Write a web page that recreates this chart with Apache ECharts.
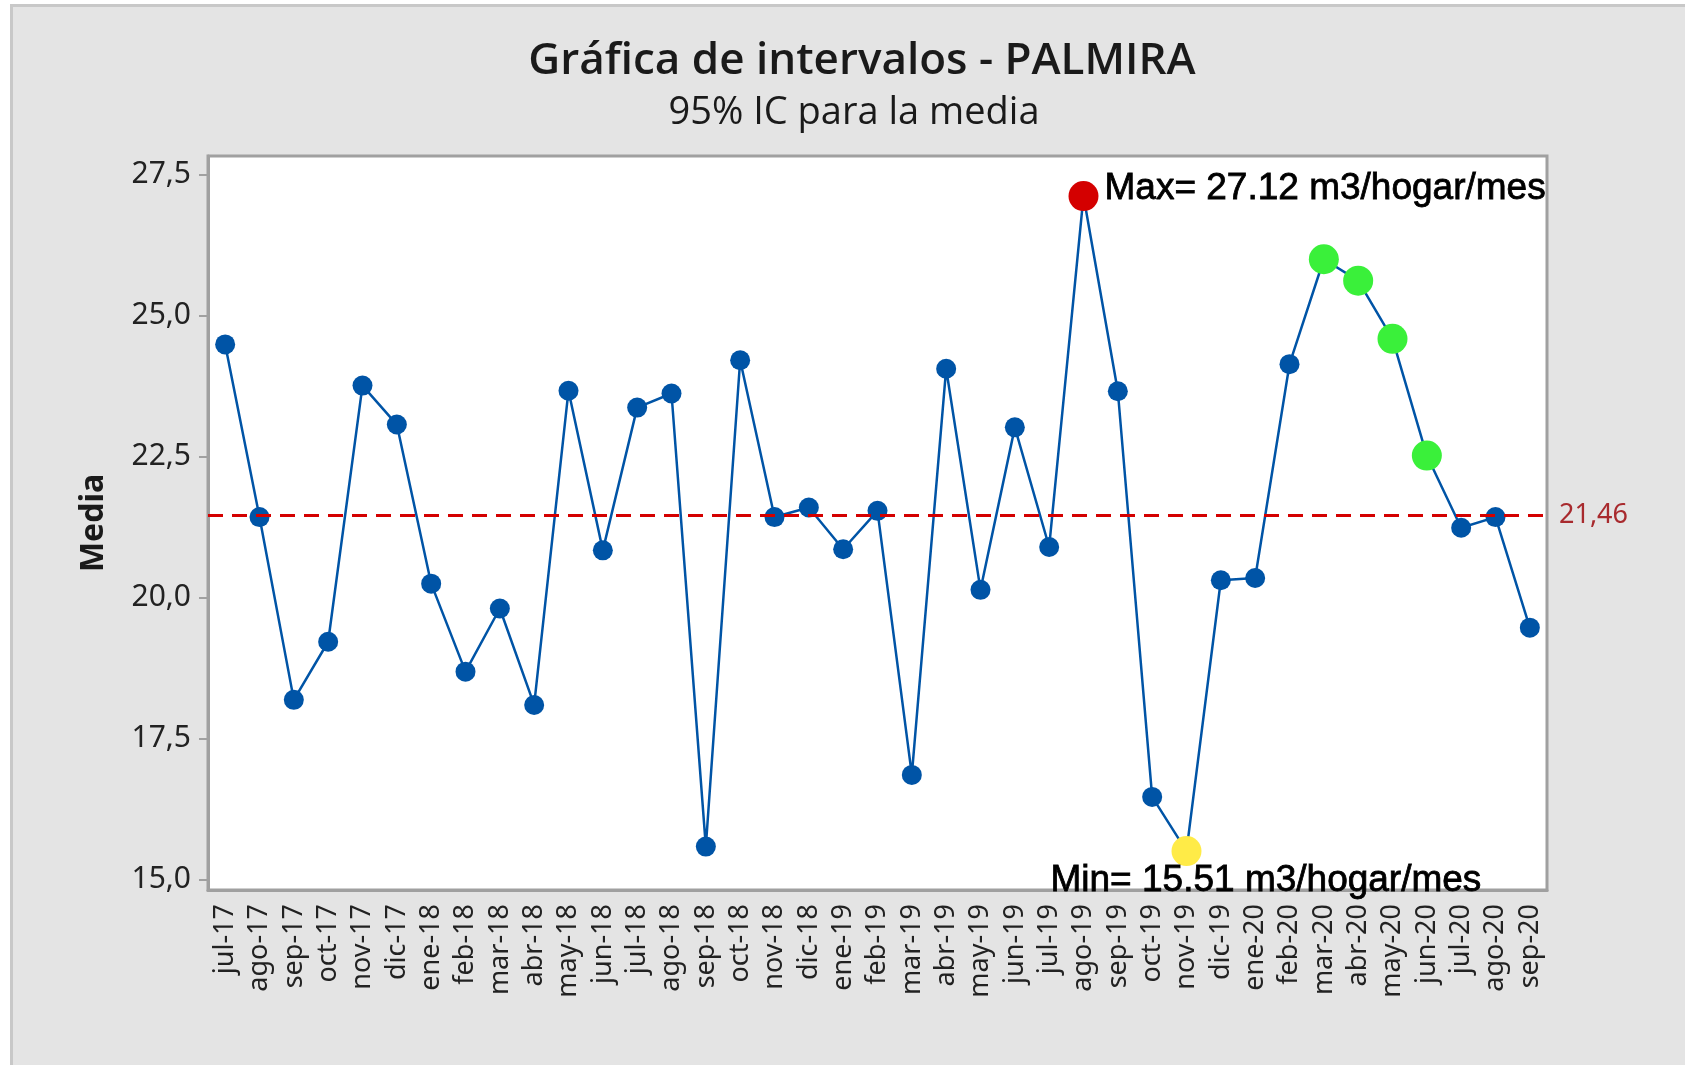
<html lang="es">
<head>
  <meta charset="UTF-8">
  <title>Gráfica de intervalos - PALMIRA</title>
  <style>
    html, body { margin: 0; padding: 0; background: #fff; }
    #chart { width: 1685px; height: 1065px; }
  </style>
</head>
<body>
  <div id="chart"></div>
  <script src="https://cdn.jsdelivr.net/npm/echarts@6/dist/echarts.min.js"></script>
  <script>
    // meses (jul-17 .. sep-20)
    const months = [
      'jul-17', 'ago-17', 'sep-17', 'oct-17', 'nov-17', 'dic-17',
      'ene-18', 'feb-18', 'mar-18', 'abr-18', 'may-18', 'jun-18',
      'jul-18', 'ago-18', 'sep-18', 'oct-18', 'nov-18', 'dic-18',
      'ene-19', 'feb-19', 'mar-19', 'abr-19', 'may-19', 'jun-19',
      'jul-19', 'ago-19', 'sep-19', 'oct-19', 'nov-19', 'dic-19',
      'ene-20', 'feb-20', 'mar-20', 'abr-20', 'may-20', 'jun-20',
      'jul-20', 'ago-20', 'sep-20'
    ]
    // media mensual (m3/hogar/mes)
    const means = [
      24.49, 21.43, 18.19, 19.22, 23.76, 23.07,
      20.25, 18.69, 19.81, 18.10, 23.67, 20.84,
      23.37, 23.62, 15.59, 24.21, 21.43, 21.60,
      20.86, 21.54, 16.86, 24.06, 20.14, 23.02,
      20.90, 27.12, 23.66, 16.47, 15.51, 20.31,
      20.35, 24.14, 26.00, 25.62, 24.59, 22.52,
      21.24, 21.43, 19.47
    ]
    const overallMean = 21.46
    const maxMonth = 'ago-19'
    const minMonth = 'nov-19'
    const greenMonths = ['mar-20', 'abr-20', 'may-20', 'jun-20']
    const maxText = 'Max= 27.12 m3/hogar/mes'
    const minText = 'Min= 15.51 m3/hogar/mes'
    const yTicks = [15, 17.5, 20, 22.5, 25, 27.5]

    const blue = '#0054A6'
    const labelFont = { fontFamily: 'Liberation Sans', fontSize: 37, color: '#000', textBorderColor: '#000', textBorderWidth: 0.8 }

    const seriesData = means.map((v, i) => {
      const m = months[i]
      if (m === maxMonth) {
        return {
          value: v, symbolSize: 30, itemStyle: { color: '#D40000' },
          label: Object.assign({ show: true, position: 'right', distance: 6, offset: [0, -7], formatter: maxText }, labelFont)
        }
      }
      if (m === minMonth) {
        return {
          value: v, symbolSize: 30, itemStyle: { color: '#FFEB47' },
          label: Object.assign({ show: true, position: 'inside', align: 'left', verticalAlign: 'middle', offset: [-136, 30], formatter: minText }, labelFont)
        }
      }
      if (greenMonths.includes(m)) {
        return { value: v, symbolSize: 30, itemStyle: { color: '#3AF03A' } }
      }
      return v
    })

    const chart = echarts.init(document.querySelector('#chart'))
    const option = {
      backgroundColor: '#fff',
      animation: false,
      graphic: [
        {
          type: 'rect', z: -10,
          shape: { x: 11.5, y: 5.5, width: 1700, height: 1100 },
          style: { fill: '#E4E4E4', stroke: '#C8C8C8', lineWidth: 3 }
        }
      ],
      title: [
        {
          text: 'Gráfica de intervalos - PALMIRA',
          left: 857, top: 34, textAlign: 'center',
          textStyle: { fontFamily: 'Open Sans', fontSize: 44, fontWeight: 600, color: '#1a1a1a' }
        },
        {
          text: '95% IC para la media',
          left: 849, top: 89, textAlign: 'center',
          textStyle: { fontFamily: 'Open Sans', fontSize: 38, fontWeight: 'normal', color: '#1a1a1a' }
        }
      ],
      grid: {
        left: 208, right: 138, top: 156, bottom: 175,
        show: true, backgroundColor: '#fff', borderColor: '#A0A0A0', borderWidth: 3
      },
      xAxis: {
        type: 'category',
        data: months,
        boundaryGap: true,
        axisLine: { lineStyle: { color: '#A0A0A0', width: 3 } },
        axisTick: { alignWithLabel: true, length: 10, lineStyle: { color: '#A0A0A0', width: 2 } },
        axisLabel: { rotate: 90, margin: 14, fontFamily: 'Noto Sans', fontSize: 27, color: '#222', interval: 0 },
        splitLine: { show: false }
      },
      yAxis: {
        type: 'value',
        min: 14.82, max: 27.83,
        name: 'Media',
        nameLocation: 'middle',
        nameRotate: 90,
        nameGap: 98,
        nameTextStyle: { fontFamily: 'Noto Sans', fontSize: 32, fontWeight: 'bold', color: '#1a1a1a' },
        axisLine: { show: true, lineStyle: { color: '#A0A0A0', width: 3 } },
        axisTick: { show: true, length: 9, customValues: yTicks, lineStyle: { color: '#A0A0A0', width: 2 } },
        axisLabel: {
          customValues: yTicks, margin: 17,
          fontFamily: 'Noto Sans', fontSize: 30, color: '#222',
          formatter: v => v.toFixed(1).replace('.', ',')
        },
        splitLine: { show: false }
      },
      series: [
        {
          type: 'line',
          data: seriesData,
          symbol: 'circle',
          symbolSize: 20,
          itemStyle: { color: blue },
          lineStyle: { color: blue, width: 2.5 },
          markLine: {
            silent: true,
            symbol: 'none',
            lineStyle: { color: '#D40000', width: 3, type: [15, 9] },
            label: {
              position: 'end', distance: 12,
              fontFamily: 'Noto Sans', fontSize: 27, color: '#A82A2E',
              formatter: () => overallMean.toFixed(2).replace('.', ',')
            },
            data: [{ yAxis: overallMean }]
          }
        }
      ]
    }
    chart.setOption(option)
  </script>
</body>
</html>
